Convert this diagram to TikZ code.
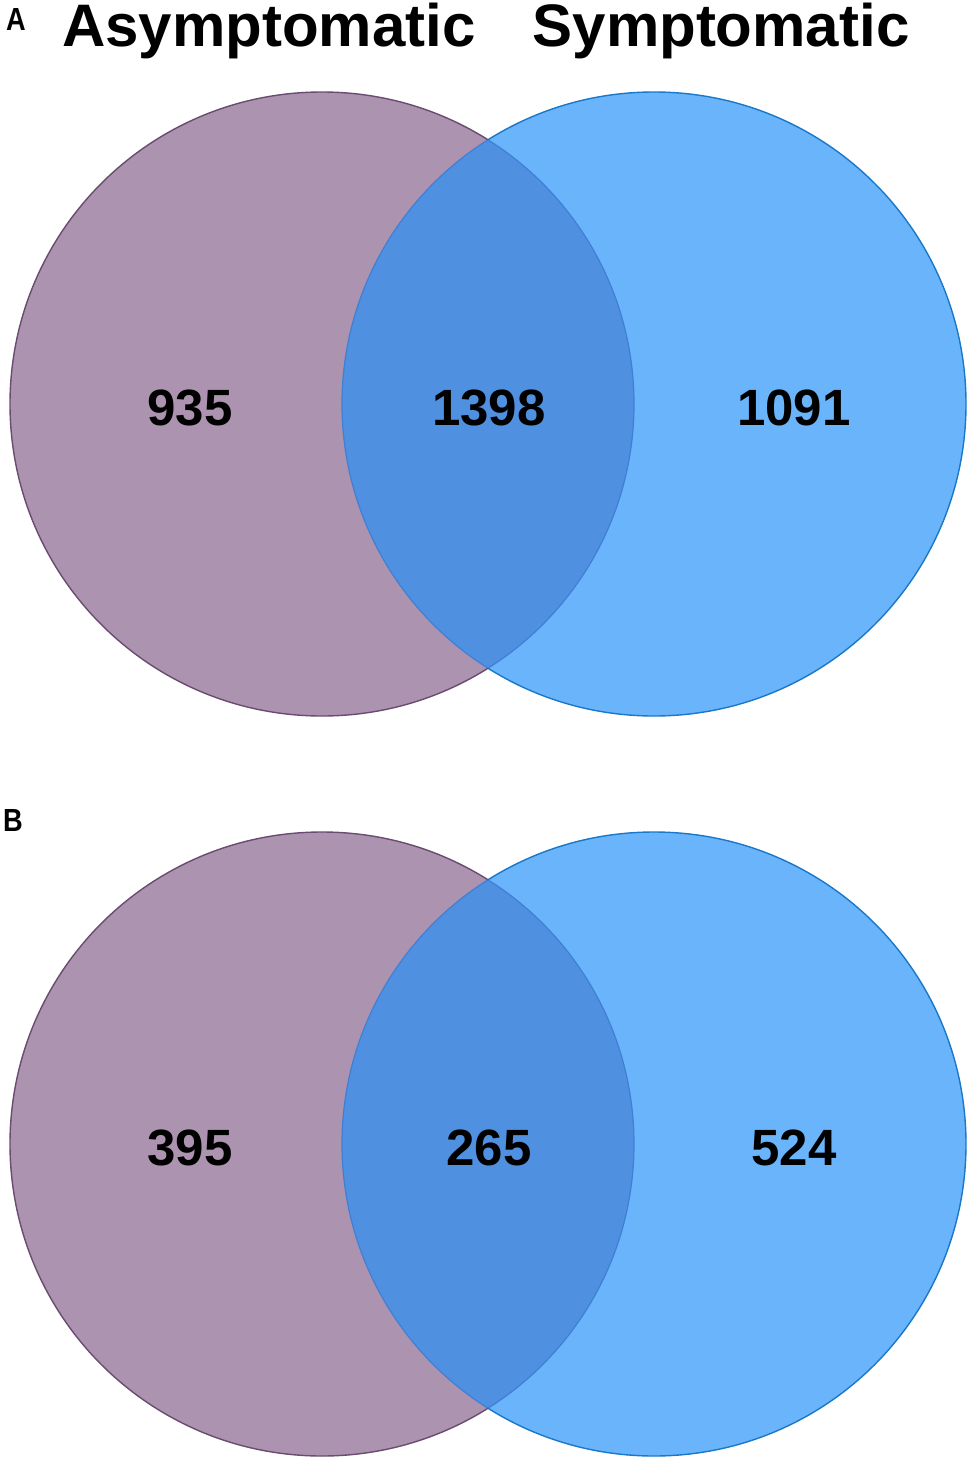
\documentclass[tikz,border=0pt]{standalone}
\usepackage{fontspec}
\setmainfont{Liberation Sans}
\definecolor{asymfill}{HTML}{AC93AF}
\definecolor{symfill}{HTML}{6AB4FC}
\definecolor{bothfill}{HTML}{5090E0}
\definecolor{asymline}{HTML}{6A4C70}
\definecolor{symline}{HTML}{1A78C8}
\definecolor{innerline}{HTML}{3F7FD6}
\begin{document}
\begin{tikzpicture}[x=1pt,y=-1pt,
  title/.style={font=\fontsize{60}{62}\selectfont\bfseries, anchor=base, inner sep=0pt},
  count/.style={font=\fontsize{51}{53}\selectfont\bfseries, anchor=base, inner sep=0pt},
  panel/.style={font=\fontsize{32}{34}\selectfont\bfseries, anchor=base west, inner sep=0pt, xscale=0.85}]
\useasboundingbox (0,0) rectangle (970,1463);
\fill[white] (0,0) rectangle (970,1463);
\def\R{312}
\foreach \cy/\nm in {404/a,1144/b}{
  \coordinate (\nm L) at (322,\cy);
  \coordinate (\nm R) at (654,\cy);
  \fill[asymfill] (\nm L) circle[radius=\R];
  \fill[symfill] (\nm R) circle[radius=\R];
  \begin{scope}
    \clip (\nm L) circle[radius=\R];
    \fill[bothfill] (\nm R) circle[radius=\R];
    \draw[innerline, line width=1.2pt] (\nm R) circle[radius=\R];
  \end{scope}
  \begin{scope}
    \clip (\nm R) circle[radius=\R];
    \draw[innerline, line width=1.2pt] (\nm L) circle[radius=\R];
  \end{scope}
  \begin{scope}[even odd rule]
    \clip (0,0) rectangle (970,1463) (\nm R) circle[radius=\R];
    \draw[asymline, line width=1.4pt] (\nm L) circle[radius=\R];
  \end{scope}
  \begin{scope}[even odd rule]
    \clip (0,0) rectangle (970,1463) (\nm L) circle[radius=\R];
    \draw[symline, line width=1.4pt] (\nm R) circle[radius=\R];
  \end{scope}
}
\node[panel] (pa) at (6,31) {A};
\node[panel] (pb) at (3,831) {B};
\node[title] (tasym) at (269,47) {Asymptomatic};
\node[title] (tsym) at (721,47) {Symptomatic};
\node[count] (a1) at (190,425) {935};
\node[count] (a2) at (489,425) {1398};
\node[count] (a3) at (794,425) {1091};
\node[count] (b1) at (190,1165) {395};
\node[count] (b2) at (489,1165) {265};
\node[count] (b3) at (794,1165) {524};
\end{tikzpicture}
\end{document}
